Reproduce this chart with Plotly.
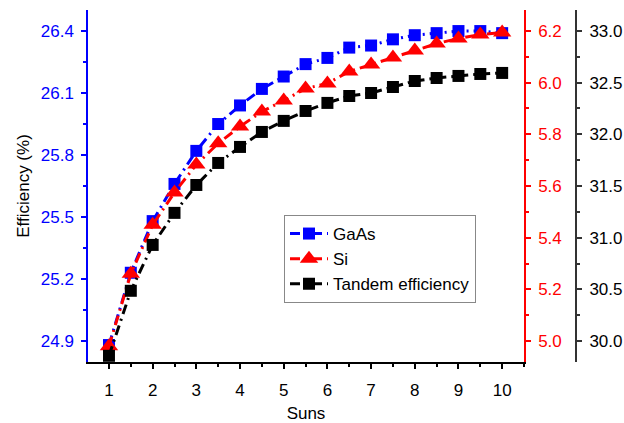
import plotly.graph_objects as go

suns = [1, 1.5, 2, 2.5, 3, 3.5, 4, 4.5, 5, 5.5, 6, 6.5, 7, 7.5, 8, 8.5, 9, 9.5, 10]
gaas = [24.88, 25.23, 25.48, 25.66, 25.82, 25.95, 26.04, 26.12, 26.18, 26.24, 26.27,
        26.32, 26.33, 26.36, 26.38, 26.39, 26.40, 26.40, 26.39]
si = [4.98, 5.26, 5.45, 5.575, 5.683, 5.765, 5.83, 5.888, 5.931, 5.977, 5.997,
      6.043, 6.07, 6.097, 6.124, 6.151, 6.171, 6.186, 6.194]
tandem = [29.857, 30.486, 30.93, 31.24, 31.51, 31.723, 31.878, 32.023, 32.13, 32.226,
          32.304, 32.371, 32.40, 32.458, 32.516, 32.545, 32.565, 32.584, 32.594]

FONT = "Liberation Sans, Arial, sans-serif"
DASH = "10px,5px,2px,5px"

fig = go.Figure()
fig.add_trace(go.Scatter(x=suns, y=gaas, name="GaAs", mode="lines+markers",
                         line=dict(color="#0000ff", width=3, dash=DASH),
                         marker=dict(symbol="square", size=12, color="#0000ff",
                                     line=dict(width=0)),
                         xaxis="x", yaxis="y"))
fig.add_trace(go.Scatter(x=suns, y=si, name="Si", mode="lines+markers",
                         line=dict(color="#ff0000", width=3, dash=DASH),
                         marker=dict(symbol="triangle-up", size=16, color="#ff0000",
                                     line=dict(width=0)),
                         xaxis="x", yaxis="y2"))
fig.add_trace(go.Scatter(x=suns, y=tandem, name="Tandem efficiency", mode="lines+markers",
                         line=dict(color="#000000", width=3, dash=DASH),
                         marker=dict(symbol="square", size=12, color="#000000",
                                     line=dict(width=0)),
                         xaxis="x", yaxis="y3"))

W, H = 624, 423
ml, mr, mt, mb = 88, 48, 10, 61
plot_w = W - ml - mr
xdom_end = (524 - ml) / plot_w

fig.update_layout(
    width=W, height=H,
    margin=dict(l=ml, r=mr, t=mt, b=mb, autoexpand=False),
    paper_bgcolor="white", plot_bgcolor="white",
    font=dict(family=FONT, size=17, color="black"),
    showlegend=True,
    legend=dict(x=(284 - ml) / plot_w, y=(362 - 215) / 352, xanchor="left", yanchor="top",
                bgcolor="white", bordercolor="#888888", borderwidth=1,
                font=dict(family=FONT, size=17, color="black"),
                tracegroupgap=0, itemwidth=38),
    xaxis=dict(domain=[0, xdom_end], range=[0.52, 10.5], tickmode="linear", tick0=1, dtick=1,
               automargin=False,
               showgrid=False, zeroline=False, showline=True, linecolor="black", linewidth=1.5,
               ticks="outside", ticklen=5, tickwidth=1.5, tickcolor="black",
               ticklabelstandoff=7,
               minor=dict(ticks="outside", ticklen=3, tickwidth=1.5, dtick=0.5, tick0=1,
                          tickcolor="black", showgrid=False),
               tickfont=dict(size=17, color="black"),
               title=dict(text="Suns", font=dict(size=17, color="black"), standoff=12)),
    yaxis=dict(range=[24.798, 26.502], tickmode="linear", tick0=24.9, dtick=0.3,
               automargin=False,
               tickformat=".1f", showgrid=False, zeroline=False,
               showline=True, linecolor="#0000ff", linewidth=1.5,
               ticks="outside", ticklen=5, tickwidth=1.5, tickcolor="#0000ff",
               ticklabelstandoff=4,
               minor=dict(ticks="outside", ticklen=3, tickwidth=1.5, dtick=0.15, tick0=24.9,
                          tickcolor="#0000ff", showgrid=False),
               tickfont=dict(size=17, color="#0000ff"),
               title=dict(text="Efficiency (%)", font=dict(size=17, color="black"), standoff=7)),
    yaxis2=dict(overlaying="y", side="right", anchor="x",
                range=[4.919, 6.281], tickmode="linear", tick0=5.0, dtick=0.2,
                automargin=False,
                tickformat=".1f", showgrid=False, zeroline=False,
                showline=True, linecolor="#ff0000", linewidth=1.5,
                ticks="outside", ticklen=5, tickwidth=1.5, tickcolor="#ff0000",
                ticklabelstandoff=4,
                minor=dict(ticks="outside", ticklen=3, tickwidth=1.5, dtick=0.1, tick0=5.0,
                           tickcolor="#ff0000", showgrid=False),
                tickfont=dict(size=17, color="#ff0000")),
    yaxis3=dict(overlaying="y", side="right", anchor="free", position=1.0,
                range=[29.797, 33.203], tickmode="linear", tick0=30.0, dtick=0.5,
                automargin=False,
                tickformat=".1f", showgrid=False, zeroline=False,
                showline=True, linecolor="#333333", linewidth=2,
                ticks="outside", ticklen=5, tickwidth=1.5, tickcolor="#333333",
                ticklabelstandoff=4,
                minor=dict(ticks="outside", ticklen=3, tickwidth=1.5, dtick=0.25, tick0=30.0,
                           tickcolor="#333333", showgrid=False),
                tickfont=dict(size=17, color="black")),
)

fig.write_html("out.html", config={"displayModeBar": False},
               post_script="document.body.style.margin='0';")
